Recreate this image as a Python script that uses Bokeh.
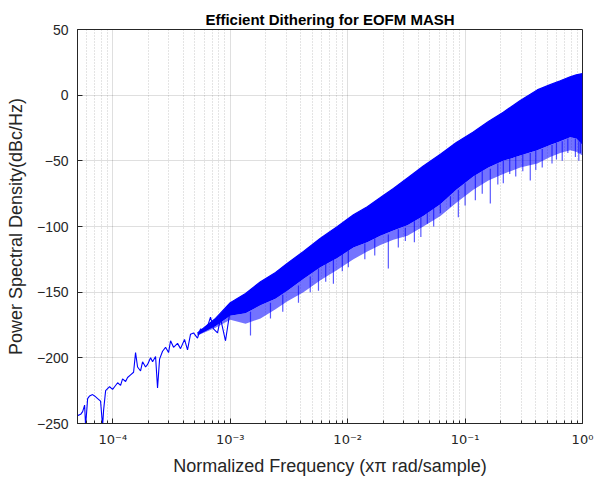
from bokeh.plotting import figure
from bokeh.models import Range1d, FixedTicker, CustomJSTickFormatter, ColumnDataSource
from bokeh.embed import file_html
from bokeh.resources import INLINE

# ---------------- data ----------------
title_text = "Efficient Dithering for EOFM MASH"
x_label = "Normalized Frequency (x\u03c0 rad/sample)"
y_label = "Power Spectral Density(dBc/Hz)"

x_major = [1e-4, 1e-3, 1e-2, 1e-1, 1e0]
y_major = [-250, -200, -150, -100, -50, 0, 50]

# low-frequency part: a single noisy trace
freq_trace = [5.01e-5, 5.32e-5, 5.53e-5, 5.75e-5, 5.86e-5, 6.10e-5, 6.34e-5, 6.72e-5,
              6.99e-5, 7.42e-5, 7.86e-5, 8.18e-5, 8.34e-5, 8.68e-5, 9.38e-5, 9.95e-5,
              1.035e-4, 1.098e-4, 1.164e-4, 1.21e-4, 1.284e-4, 1.335e-4, 1.416e-4, 1.502e-4,
              1.561e-4, 1.624e-4, 1.722e-4, 1.791e-4, 1.90e-4, 1.976e-4, 2.096e-4, 2.18e-4,
              2.311e-4, 2.403e-4, 2.50e-4, 2.651e-4, 2.812e-4, 2.982e-4, 3.101e-4, 3.289e-4,
              3.556e-4, 3.772e-4, 4.078e-4, 4.326e-4, 4.588e-4, 4.866e-4, 5.262e-4, 5.58e-4,
              5.92e-4, 6.40e-4, 6.79e-4, 7.20e-4, 7.79e-4, 8.26e-4, 9.11e-4, 1.005e-3]
psd_trace = [-244, -243, -241, -236, -252, -231, -229, -228,
             -229, -231, -233, -252, -240, -225, -222, -224,
             -222, -219, -221, -216, -218, -215, -213, -211,
             -196, -207, -210, -203, -207, -205, -200, -203,
             -199, -223, -201, -195, -192, -196, -187, -192,
             -189, -193, -186, -194, -182, -181, -185, -178,
             -179, -176, -169, -178, -181, -170, -187, -162]

# higher-frequency part: dense band (upper edge, solid lower edge, spiky fringe)
freq_band = [5.26e-4, 7.49e-4, 1.0e-3, 1.35e-3, 1.81e-3, 2.43e-3, 3.07e-3, 4.20e-3,
             5.86e-3, 8.18e-3, 1.12e-2, 1.47e-2, 1.90e-2, 2.45e-2, 3.23e-2, 4.41e-2,
             6.16e-2, 8.42e-2, 0.1175, 0.158, 0.2116, 0.295, 0.412, 0.531,
             0.647, 0.786, 0.885, 1.0]
psd_upper = [-181, -170, -158, -151, -142, -135, -128, -119,
             -109, -100, -91, -85, -78, -71, -63, -54,
             -45, -36, -28, -20, -13, -4, 4, 8,
             11, 14, 15.5, 16.5]
psd_lower = [-183, -176, -168, -166, -160, -155, -149, -140,
             -131, -124, -116, -112, -107, -103, -99, -92,
             -83, -72, -62, -55, -50, -46, -42, -38,
             -35, -32, -33, -38]
psd_fringe = [-183, -177, -171, -174, -170, -163, -157, -150,
              -141, -133, -125, -119, -114, -110, -107, -100,
              -92, -82, -72, -65, -60, -55, -52, -47,
              -44, -42, -43, -46]

# downward spikes below the band
spike_freq = [1.487e-3, 2.2e-3, 2.8e-3, 3.81e-3, 4.8e-3, 5.64e-3, 6.5e-3, 7.56e-3,
              9.0e-3, 1.014e-2, 1.4e-2, 1.7e-2, 2.22e-2, 2.7e-2, 3.10e-2, 3.7e-2,
              4.2e-2, 4.77e-2, 5.4e-2, 6.16e-2, 7.5e-2, 8.76e-2, 0.100, 0.1223,
              0.140, 0.164, 0.190, 0.2116, 0.240, 0.27, 0.31, 0.359,
              0.400, 0.454, 0.55, 0.60, 0.672, 0.75, 0.87, 0.93, 0.962]
spike_base = [-165, -158, -152, -145, -138, -132, -128, -125,
              -121, -118, -113, -109, -106, -102, -101, -96,
              -93, -90, -86, -83, -77, -72, -67, -61,
              -58, -56, -52, -50, -48, -47, -45, -44,
              -42, -41, -38, -36, -35, -33, -33, -35, -36]
spike_psd = [-183, -170, -165, -158, -150, -149, -142, -143.5,
             -134, -131, -125, -122, -132, -116, -111, -112,
             -108, -98, -100, -90, -85, -93, -84, -80,
             -75, -82.5, -68, -67, -60, -62, -58, -65,
             -57, -55, -52, -49, -50, -44, -47, -50, -44]

# ---------------- figure ----------------
FONT = "Liberation Sans"
TXT = "#262626"
BLUE = "#0000ff"

p = figure(width=604, height=483, x_axis_type="log",
           x_range=Range1d(5e-5, 1.0), y_range=Range1d(-250, 50),
           output_backend="svg", toolbar_location=None,
           min_border_left=77, min_border_right=22,
           min_border_top=29, min_border_bottom=60,
           background_fill_color="white", border_fill_color="white")

p.title.text = title_text
p.title.align = "center"
p.title.text_font = FONT
p.title.text_font_size = "15px"
p.title.text_font_style = "bold"
p.title.text_color = "black"
p.title.standoff = 4

minor = [m * d for d in [1e-5, 1e-4, 1e-3, 1e-2, 1e-1] for m in range(2, 10)]
xticker = FixedTicker(ticks=x_major, minor_ticks=minor)
yticker = FixedTicker(ticks=y_major)

sup_code = """
const e = Math.round(Math.log10(tick));
const sup = {'-':'\u207b','0':'\u2070','1':'\u00b9','2':'\u00b2','3':'\u00b3','4':'\u2074',
             '5':'\u2075','6':'\u2076','7':'\u2077','8':'\u2078','9':'\u2079'};
return '10' + String(e).split('').map(c => sup[c]).join('');
"""

xa = p.xaxis[0]
xa.ticker = xticker
xa.formatter = CustomJSTickFormatter(code=sup_code)
ya = p.yaxis[0]
ya.ticker = yticker

for ax in (xa, ya):
    ax.axis_line_color = TXT
    ax.major_tick_line_color = TXT
    ax.minor_tick_line_color = TXT
    ax.major_tick_in = 5
    ax.major_tick_out = 0
    ax.minor_tick_in = 3
    ax.minor_tick_out = 0
    ax.major_label_text_font = FONT
    ax.major_label_text_font_size = "14px"
    ax.major_label_text_color = TXT
    ax.axis_label_text_font = FONT
    ax.axis_label_text_font_size = "18px"
    ax.axis_label_text_font_style = "normal"
    ax.axis_label_text_color = TXT

xa.major_label_text_font = "DejaVu Sans"
xa.major_label_text_font_size = "13px"
xa.axis_label = x_label
ya.axis_label = y_label
xa.major_label_standoff = 8
ya.major_label_standoff = 9
xa.axis_label_standoff = 6
ya.axis_label_standoff = 8

p.xgrid.ticker = xticker
p.ygrid.ticker = yticker
p.xgrid.grid_line_color = TXT
p.xgrid.grid_line_alpha = 0.15
p.ygrid.grid_line_color = TXT
p.ygrid.grid_line_alpha = 0.15
p.xgrid.minor_grid_line_color = TXT
p.xgrid.minor_grid_line_alpha = 0.35
p.xgrid.minor_grid_line_dash = "1 2"
p.xgrid.minor_grid_line_width = 0.7
p.outline_line_color = TXT
p.outline_line_alpha = 1.0

band = ColumnDataSource(dict(f=freq_band, up=psd_upper, lo=psd_lower, fr=psd_fringe))
p.varea(x="f", y1="fr", y2="lo", source=band, fill_color=BLUE, fill_alpha=0.55)
p.varea(x="f", y1="lo", y2="up", source=band, fill_color=BLUE, fill_alpha=1.0)
p.line(x="f", y="up", source=band, line_color=BLUE, line_width=1.2)

spikes = ColumnDataSource(dict(f=spike_freq, b=spike_base, d=spike_psd))
p.segment(x0="f", y0="b", x1="f", y1="d", source=spikes, line_color=BLUE,
          line_alpha=0.65, line_width=1.2)

trace = ColumnDataSource(dict(f=freq_trace, v=psd_trace))
p.line(x="f", y="v", source=trace, line_color=BLUE, line_width=1.1)

open("out.html", "w").write(file_html(p, INLINE))
